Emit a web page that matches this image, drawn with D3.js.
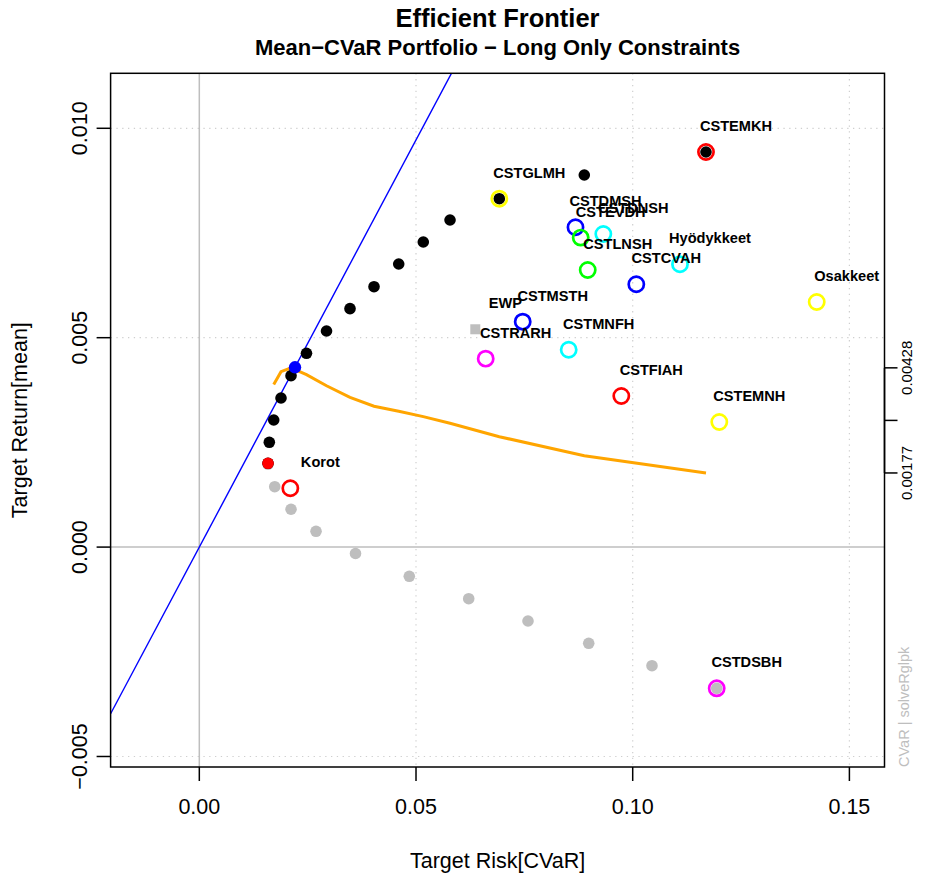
<!DOCTYPE html>
<html><head><meta charset="utf-8">
<script src="https://cdn.jsdelivr.net/npm/d3@7"></script>
<style>body{margin:0;background:#fff}svg{display:block;font-family:"Liberation Sans",Arial,sans-serif}</style>
</head><body><svg id="c" width="939" height="877"></svg>
<script>
// ---- data ----
const frontierRisk   = [0.01585,0.01615,0.01717,0.01885,0.02116,0.02473,0.02935,0.03477,0.04031,0.04601,0.05168,0.05785,0.06922,0.08883,0.11691];
const frontierReturn = [0.002001,0.002502,0.003035,0.00356,0.004093,0.004627,0.00516,0.005693,0.006218,0.00676,0.007285,0.00781,0.008319,0.008885,0.009434];
const lowerRisk   = [0.01585,0.0174,0.02116,0.02693,0.03604,0.04845,0.06216,0.07584,0.08985,0.10445,0.11938];
const lowerReturn = [0.00198,0.001442,0.000903,0.000377,-0.000153,-0.000697,-0.001232,-0.001765,-0.002297,-0.002832,-0.003372];
const minRiskPoint = [0.01585, 0.002001];
const tangencyPoint = [0.02208, 0.004293];
const ewpPoint = [0.06368, 0.005201];
const ewpLabel = "EWP";
const assetNames  = ["CSTEMKH","CSTGLMH","CSTDMSH","CSTEVDH","CSTDNSH","CSTLNSH","CSTCVAH","Hyödykkeet","Osakkeet","CSTMSTH","CSTMNFH","CSTRARH","CSTFIAH","CSTEMNH","Korot","CSTDSBH"];
const assetRisk   = [0.11691,0.06922,0.08680,0.08800,0.09322,0.08962,0.10083,0.11091,0.14246,0.07462,0.08523,0.06608,0.09737,0.11998,0.02100,0.11938];
const assetReturn = [0.009434,0.008319,0.007636,0.007390,0.007476,0.006616,0.006275,0.006753,0.005852,0.005382,0.004713,0.004499,0.003608,0.002987,0.001404,-0.003372];
const assetColors = ["#FF0000","#FFFF00","#0000FF","#00FF00","#00FFFF","#00FF00","#0000FF","#00FFFF","#FFFF00","#0000FF","#00FFFF","#FF00FF","#FF0000","#FFFF00","#FF0000","#FF00FF"];
const sharpeRisk  = [0.01717,0.01885,0.02116,0.02473,0.02935,0.03477,0.04031,0.04601,0.05168,0.05785,0.06922,0.08883,0.11691];
const sharpeValue = [0.003883,0.004188,0.00428,0.004117,0.003852,0.003575,0.003364,0.003243,0.003116,0.002956,0.002636,0.00218,0.00177];
const xTicks = [0.00,0.05,0.10,0.15];
const xTickLabels = ["0.00","0.05","0.10","0.15"];
const yTicks = [-0.005,0.000,0.005,0.010];
const yTickLabels = ["\u22120.005","0.000","0.005","0.010"];
const rightTicks = [0.00177,0.003025,0.00428];
const rightTickLabels = ["0.00177","","0.00428"];
const xDomain = [-0.02047, 0.1581];
const yDomain = [-0.005251, 0.011313];
const titleText = "Efficient Frontier";
const subtitleText = "Mean\u2212CVaR Portfolio \u2212 Long Only Constraints";
const xTitle = "Target Risk[CVaR]";
const yTitle = "Target Return[mean]";
const sideText = "CVaR | solveRglpk";

// ---- layout ----
const L = 110.6, R = 884.5, T = 73.3, B = 767;
const svg = d3.select("#c");
const x = d3.scaleLinear().domain(xDomain).range([L, R]);
const y = d3.scaleLinear().domain(yDomain).range([B, T]);

const defs = svg.append("defs");
defs.append("clipPath").attr("id","clip").append("rect")
  .attr("x",L).attr("y",T).attr("width",R-L).attr("height",B-T);

// grid
const g = svg.append("g");
g.selectAll(".gx").data(xTicks.filter(d=>d!==0)).enter().append("line")
  .attr("x1",d=>x(d)).attr("x2",d=>x(d)).attr("y1",T).attr("y2",B)
  .attr("stroke","#cfcfcf").attr("stroke-width",1.2).attr("stroke-dasharray","1.3,4.5");
g.selectAll(".gy").data(yTicks.filter(d=>d!==0)).enter().append("line")
  .attr("y1",d=>y(d)).attr("y2",d=>y(d)).attr("x1",L).attr("x2",R)
  .attr("stroke","#cfcfcf").attr("stroke-width",1.2).attr("stroke-dasharray","1.3,4.5");
// zero lines
g.append("line").attr("x1",x(0)).attr("x2",x(0)).attr("y1",T).attr("y2",B).attr("stroke","#bebebe").attr("stroke-width",1.5);
g.append("line").attr("y1",y(0)).attr("y2",y(0)).attr("x1",L).attr("x2",R).attr("stroke","#bebebe").attr("stroke-width",1.5);

const plot = svg.append("g").attr("clip-path","url(#clip)");

// tangency line through origin
const slope = tangencyPoint[1]/tangencyPoint[0];
plot.append("line")
  .attr("x1",x(xDomain[0])).attr("y1",y(slope*xDomain[0]))
  .attr("x2",x(xDomain[1])).attr("y2",y(slope*xDomain[1]))
  .attr("stroke","#0000FF").attr("stroke-width",1.4);

// lower (inefficient) frontier
plot.selectAll(".lo").data(lowerRisk.map((r,i)=>[r,lowerReturn[i]])).enter().append("circle")
  .attr("cx",d=>x(d[0])).attr("cy",d=>y(d[1])).attr("r",5.8).attr("fill","#BEBEBE");
// efficient frontier
plot.selectAll(".fr").data(frontierRisk.map((r,i)=>[r,frontierReturn[i]])).enter().append("circle")
  .attr("cx",d=>x(d[0])).attr("cy",d=>y(d[1])).attr("r",5.8).attr("fill","#000");
// min risk
plot.append("circle").attr("cx",x(minRiskPoint[0])).attr("cy",y(minRiskPoint[1])).attr("r",5.8).attr("fill","#FF0000");

// sharpe ratio line
plot.append("path")
  .attr("d", d3.line().x(d=>x(d[0])).y(d=>y(d[1]))(sharpeRisk.map((r,i)=>[r,sharpeValue[i]])))
  .attr("fill","none").attr("stroke","#FFA500").attr("stroke-width",3);

// tangency point
plot.append("circle").attr("cx",x(tangencyPoint[0])).attr("cy",y(tangencyPoint[1])).attr("r",6.2).attr("fill","#0000FF");

// EWP
plot.append("rect").attr("x",x(ewpPoint[0])-5).attr("y",y(ewpPoint[1])-5).attr("width",10).attr("height",10).attr("fill","#BEBEBE");

// assets
plot.selectAll(".as").data(assetNames.map((n,i)=>({n,r:assetRisk[i],m:assetReturn[i],c:assetColors[i]}))).enter().append("circle")
  .attr("cx",d=>x(d.r)).attr("cy",d=>y(d.m)).attr("r",7.6).attr("fill","none").attr("stroke",d=>d.c).attr("stroke-width",2.7);

// labels
const labels = assetNames.map((n,i)=>({n,r:assetRisk[i],m:assetReturn[i]}));
labels.push({n:ewpLabel,r:ewpPoint[0],m:ewpPoint[1]});
svg.selectAll(".lb").data(labels).enter().append("text")
  .attr("x",d=>x(d.r)+30).attr("y",d=>y(d.m)-21)
  .attr("text-anchor","middle").attr("font-weight","bold").attr("font-size",14.6).attr("fill","#000")
  .text(d=>d.n);

// box
svg.append("rect").attr("x",L).attr("y",T).attr("width",R-L).attr("height",B-T)
  .attr("fill","none").attr("stroke","#000").attr("stroke-width",1.5);

// x axis
const xa = svg.append("g");
xa.selectAll("line").data(xTicks).enter().append("line")
  .attr("x1",d=>x(d)).attr("x2",d=>x(d)).attr("y1",B).attr("y2",B+14).attr("stroke","#000").attr("stroke-width",1.5);
xa.selectAll("text").data(xTicks).enter().append("text")
  .attr("x",d=>x(d)).attr("y",814).attr("text-anchor","middle").attr("font-size",21.5)
  .text((d,i)=>xTickLabels[i]);
// y axis
const ya = svg.append("g");
ya.selectAll("line").data(yTicks).enter().append("line")
  .attr("y1",d=>y(d)).attr("y2",d=>y(d)).attr("x1",L-14).attr("x2",L).attr("stroke","#000").attr("stroke-width",1.5);
ya.selectAll("text").data(yTicks).enter().append("text")
  .attr("transform",d=>`translate(87,${y(d)}) rotate(-90)`).attr("text-anchor","middle").attr("font-size",21.5)
  .text((d,i)=>yTickLabels[i]);
// right axis
const ra = svg.append("g");
ra.append("line").attr("x1",R).attr("x2",R).attr("y1",y(d3.min(rightTicks))).attr("y2",y(d3.max(rightTicks))).attr("stroke","#000").attr("stroke-width",1.5);
ra.selectAll("line.t").data(rightTicks).enter().append("line")
  .attr("y1",d=>y(d)).attr("y2",d=>y(d)).attr("x1",R).attr("x2",R+13).attr("stroke","#000").attr("stroke-width",1.5);
ra.selectAll("text").data(rightTicks).enter().append("text")
  .attr("transform",d=>`translate(912,${y(d)}) rotate(-90)`).attr("text-anchor","middle").attr("font-size",15)
  .text((d,i)=>rightTickLabels[i]);

// side text
svg.append("text").attr("transform",`translate(909,${B}) rotate(-90)`).attr("text-anchor","start")
  .attr("font-size",14.5).attr("fill","#BEBEBE").text(sideText);

// titles
svg.append("text").attr("x",(L+R)/2).attr("y",27).attr("text-anchor","middle").attr("font-weight","bold").attr("font-size",25.5).text(titleText);
svg.append("text").attr("x",(L+R)/2).attr("y",55).attr("text-anchor","middle").attr("font-weight","bold").attr("font-size",22).text(subtitleText);
svg.append("text").attr("x",(L+R)/2).attr("y",868).attr("text-anchor","middle").attr("font-size",21.5).text(xTitle);
svg.append("text").attr("transform",`translate(27,${(T+B)/2}) rotate(-90)`).attr("text-anchor","middle").attr("font-size",21.5).text(yTitle);
</script></body></html>
